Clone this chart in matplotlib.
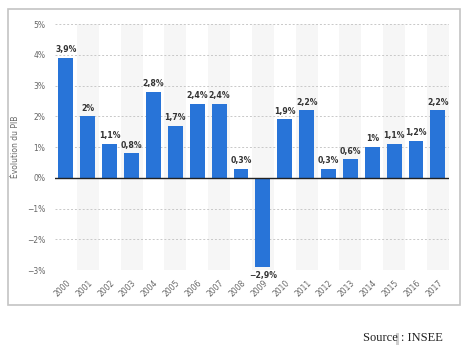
import matplotlib.pyplot as plt
from matplotlib.patches import Rectangle

# GDP growth, France
years = [str(y) for y in range(2000, 2018)]
growth = [3.9, 2.0, 1.1, 0.8, 2.8, 1.7, 2.4, 2.4, 0.3, -2.9,
          1.9, 2.2, 0.3, 0.6, 1.0, 1.1, 1.2, 2.2]
yticks = [-3, -2, -1, 0, 1, 2, 3, 4, 5]


def pct(v):
    s = f"{v:.1f}".rstrip("0").rstrip(".").replace(".", ",")
    return s.replace("-", "\u2212") + "%"


fig = plt.figure(figsize=(4.76, 3.45), dpi=100)
ax = fig.add_axes([0.1155, 0.217, 0.8275, 0.713])

x = list(range(len(years)))

# alternating background bands
for i in x:
    if i % 2 == 1:
        ax.axvspan(i - 0.5, i + 0.5, color="#f6f6f6", zorder=0, lw=0)

for t in yticks:
    if t != 0:
        ax.axhline(t, color="#c8c8c8", lw=0.7, ls=(0, (2, 2)), zorder=1)

ax.bar(x, growth, width=0.68, color="#2874d8", zorder=2)
ax.axhline(0, color="#222222", lw=1.0, zorder=3)

for i, v in zip(x, growth):
    if v >= 0:
        ax.text(i, v + 0.12, pct(v), ha="center", va="bottom",
                fontsize=5.6, fontweight="bold", color="#333333")
    else:
        ax.text(i, v - 0.12, pct(v), ha="center", va="top",
                fontsize=5.6, fontweight="bold", color="#333333")

ax.set_xlim(-0.5, len(years) - 0.5)
ax.set_ylim(-3, 5)
ax.set_yticks(yticks)
ax.set_yticklabels([pct(t) for t in yticks])
ax.set_xticks(x)
ax.set_xticklabels(years, rotation=45, ha="right", rotation_mode="anchor")
ax.tick_params(axis="both", length=0, labelsize=5.5, colors="#666666")
ax.tick_params(axis="x", pad=6)
ax.tick_params(axis="y", pad=7)
for s in ax.spines.values():
    s.set_visible(False)
ax.set_ylabel("Évolution du PIB", fontsize=5.5, color="#666666")
ax.yaxis.set_label_coords(-0.089, 0.5)

# outer frame
fig.patches.append(Rectangle((0.0168, 0.116), 0.949, 0.858, transform=fig.transFigure,
                             fill=False, edgecolor="#c4c4c4", lw=1.2))

# source line with a grey marker in the gap
fig.patches.append(Rectangle((0.8315, 0.0), 0.0065, 0.036, transform=fig.transFigure,
                             facecolor="#cfcfcf", edgecolor="none"))
fig.text(0.762, 0.004, "Source : INSEE", fontsize=9, family="Liberation Serif",
         color="#222222", ha="left", va="bottom")

fig.savefig("out.png", dpi=100)
